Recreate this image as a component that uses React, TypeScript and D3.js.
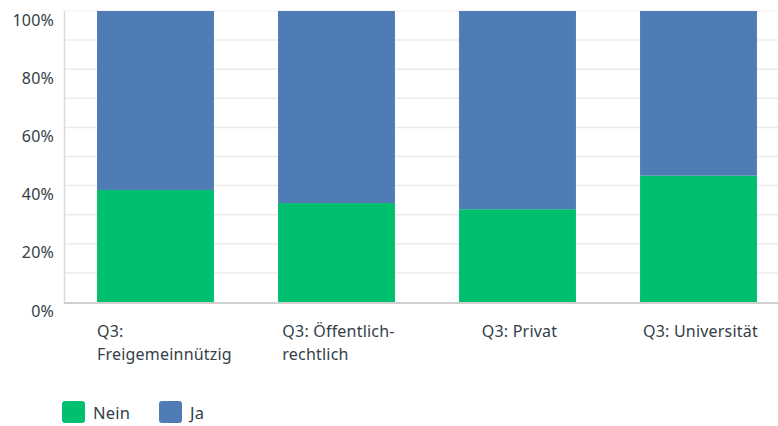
import React, { useRef, useEffect } from 'react';
import * as d3 from 'd3';

const categories = ['Q3: Freigemeinnützig', 'Q3: Öffentlich-rechtlich', 'Q3: Privat', 'Q3: Universität'];
const categoryLines = [
  ['Q3:', 'Freigemeinnützig'],
  ['Q3: Öffentlich-', 'rechtlich'],
  ['Q3: Privat'],
  ['Q3: Universität'],
];
const neinValues = [38.5, 34.0, 31.9, 43.4];
const jaValues = [61.5, 66.0, 68.1, 56.6];
const seriesNames = ['Nein', 'Ja'];
const seriesColors = ['#00bf6f', '#507cb6'];
const yTicks = [0, 20, 40, 60, 80, 100];
const gridTicks = [10, 20, 30, 40, 50, 60, 70, 80, 90, 100];

const W = 778;
const H = 426;
const FONT = '"Noto Sans", sans-serif';
const TEXT = '#333e48';

const App: React.FC = () => {
  const svgRef = useRef<SVGSVGElement>(null);

  useEffect(() => {
    if (!svgRef.current) return;
    const svg = d3.select(svgRef.current);
    svg.selectAll('*').remove();

    const margin = { top: 11, left: 65, bottom: 302 };

    const x = d3.scaleBand()
      .domain(categories)
      .range([margin.left, 789])
      .paddingInner(0.354)
      .paddingOuter(0.177);

    const y = d3.scaleLinear()
      .domain([0, 100])
      .range([margin.bottom, margin.top]);

    // Grid lines
    svg.append('g')
      .selectAll('line')
      .data(gridTicks)
      .join('line')
      .attr('x1', margin.left)
      .attr('x2', W)
      .attr('y1', d => y(d))
      .attr('y2', d => y(d))
      .attr('stroke', d => (d === 100 ? '#f4f4f4' : '#ebebeb'))
      .attr('stroke-width', 1.5);

    // Stacked bars
    const rows = categories.map((c, i) => ({ cat: c, Nein: neinValues[i], Ja: jaValues[i] }));
    const stack = d3.stack<any>().keys(seriesNames)(rows);
    stack.forEach((layer, si) => {
      svg.append('g')
        .attr('fill', seriesColors[si])
        .selectAll('rect')
        .data(layer)
        .join('rect')
        .attr('x', d => x(d.data.cat)!)
        .attr('width', x.bandwidth())
        .attr('y', d => y(d[1]))
        .attr('height', d => y(d[0]) - y(d[1]));
    });

    // Axes lines
    svg.append('line')
      .attr('x1', margin.left - 0.5).attr('x2', margin.left - 0.5)
      .attr('y1', margin.top).attr('y2', margin.bottom + 1)
      .attr('stroke', '#d9d9d9').attr('stroke-width', 1.5);
    svg.append('line')
      .attr('x1', margin.left - 1).attr('x2', W)
      .attr('y1', margin.bottom + 1).attr('y2', margin.bottom + 1)
      .attr('stroke', '#cfcfcf').attr('stroke-width', 2);

    // Y labels
    svg.append('g')
      .selectAll('text')
      .data(yTicks)
      .join('text')
      .attr('x', 54)
      .attr('y', d => y(d) + 9)
      .attr('dy', '0.35em')
      .attr('text-anchor', 'end')
      .attr('fill', TEXT)
      .attr('font-family', FONT)
      .attr('font-size', 16)
      .attr('letter-spacing', 0.2)
      .text(d => `${d}%`);

    // X labels: left-aligned lines, block centred on bar but not left of it
    categories.forEach((c, i) => {
      const g = svg.append('g');
      const t = g.append('text')
        .attr('fill', TEXT)
        .attr('font-family', FONT)
        .attr('font-size', 16)
        .attr('letter-spacing', 0.2);
      categoryLines[i].forEach((line, li) => {
        t.append('tspan').attr('x', 0).attr('y', 337 + li * 23).text(line);
      });
      const bw = (t.node() as SVGTextElement).getBBox().width;
      const cx = x(c)! + x.bandwidth() / 2;
      const left = Math.max(x(c)!, cx - bw / 2 + 2);
      g.attr('transform', `translate(${left},0)`);
    });

    // Legend
    const legendX = [62, 159];
    seriesNames.forEach((s, i) => {
      svg.append('rect')
        .attr('x', legendX[i]).attr('y', 401)
        .attr('width', 23).attr('height', 22)
        .attr('rx', 3)
        .attr('fill', seriesColors[i]);
      svg.append('text')
        .attr('x', legendX[i] + 31).attr('y', 419)
        .attr('fill', TEXT)
        .attr('font-family', FONT)
        .attr('font-size', 16.5)
        .attr('letter-spacing', 0.2)
        .text(s);
    });
  }, []);

  return (
    <svg
      ref={svgRef}
      width={W}
      height={H}
      style={{ position: 'absolute', left: 0, top: 0, background: '#fff' }}
    />
  );
};

export default App;
